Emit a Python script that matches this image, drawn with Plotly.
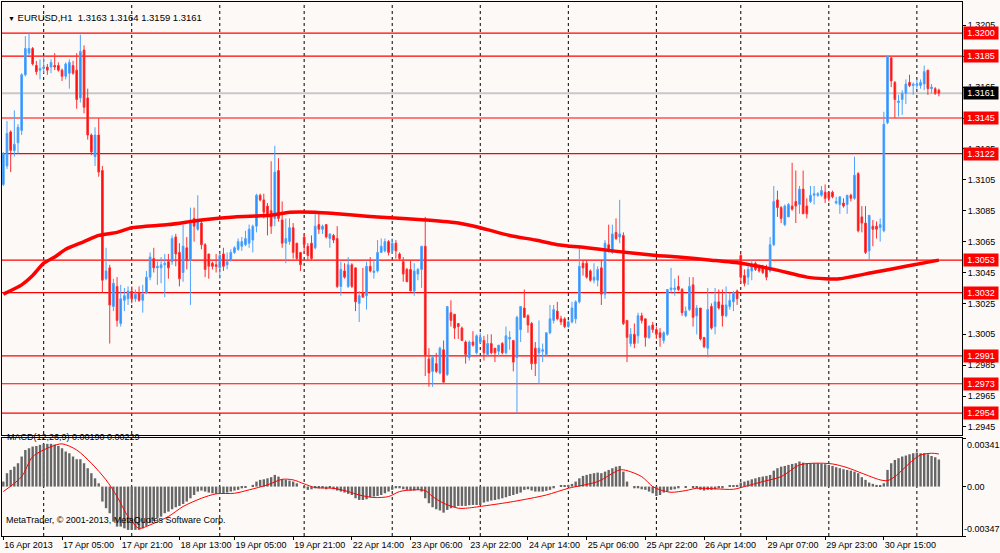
import plotly.graph_objects as go

# EURUSD H1, one value per hourly bar (weekend hours are not drawn, bars are indexed)
opens = [
    1.3102, 1.3114, 1.3136, 1.3124, 1.3129, 1.3137, 1.3173, 1.3187, 1.3190, 1.3179,
    1.3176, 1.3177, 1.3178, 1.3178, 1.3179, 1.3179, 1.3176, 1.3172, 1.3174, 1.3179,
    1.3176, 1.3158, 1.3189, 1.3158, 1.3134, 1.3120, 1.3134, 1.3111, 1.3041, 1.3048,
    1.3023, 1.3036, 1.3012, 1.3027, 1.3028, 1.3033, 1.3028, 1.3032, 1.3027, 1.3032,
    1.3042, 1.3054, 1.3048, 1.3048, 1.3050, 1.3052, 1.3052, 1.3068, 1.3058, 1.3045,
    1.3061, 1.3053, 1.3080, 1.3073, 1.3077, 1.3063, 1.3057, 1.3051, 1.3050, 1.3048,
    1.3057, 1.3050, 1.3053, 1.3058, 1.3060, 1.3062, 1.3063, 1.3064, 1.3066, 1.3075,
    1.3095, 1.3092, 1.3088, 1.3085, 1.3080, 1.3111, 1.3079, 1.3064, 1.3065, 1.3074,
    1.3064, 1.3058, 1.3068, 1.3062, 1.3064, 1.3061, 1.3076, 1.3073, 1.3076, 1.3067,
    1.3069, 1.3067, 1.3036, 1.3046, 1.3036, 1.3050, 1.3048, 1.3025, 1.3032, 1.3030,
    1.3049, 1.3045, 1.3046, 1.3058, 1.3059, 1.3065, 1.3059, 1.3064, 1.3057, 1.3052,
    1.3047, 1.3047, 1.3033, 1.3044, 1.3047, 1.3062, 1.2989, 1.2981, 1.2986, 1.2980,
    1.2995, 1.2979, 1.3019, 1.3018, 1.3012, 1.3009, 1.3000, 1.2990, 1.3000, 1.2993,
    1.3000, 1.3001, 1.2992, 1.2999, 1.2996, 1.2994, 1.2999, 1.2993, 1.3002, 1.3001,
    1.2990, 1.3008, 1.3022, 1.3017, 1.3012, 1.2996, 1.2993, 1.2994, 1.2992, 1.3006,
    1.3014, 1.3020, 1.3015, 1.3015, 1.3010, 1.3013, 1.3015, 1.3026, 1.3051, 1.3051,
    1.3046, 1.3040, 1.3040, 1.3048, 1.3031, 1.3063, 1.3058, 1.3071, 1.3068, 1.3069,
    1.3014, 1.2999, 1.3005, 1.3004, 1.3017, 1.3015, 1.3003, 1.3011, 1.3008, 1.3006,
    1.3001, 1.3005, 1.3034, 1.3034, 1.3036, 1.3034, 1.3017, 1.3021, 1.3037, 1.3017,
    1.3022, 1.3003, 1.2996, 1.3023, 1.3010, 1.3026, 1.3024, 1.3017, 1.3023, 1.3026,
    1.3033, 1.3056, 1.3043, 1.3042, 1.3046, 1.3051, 1.3049, 1.3049, 1.3048, 1.3046,
    1.3063, 1.3092, 1.3087, 1.3076, 1.3081, 1.3088, 1.3091, 1.3089, 1.3099, 1.3088,
    1.3091, 1.3095, 1.3095, 1.3095, 1.3097, 1.3097, 1.3097, 1.3090, 1.3089, 1.3090,
    1.3089, 1.3095, 1.3093, 1.3109, 1.3081, 1.3077, 1.3059, 1.3075, 1.3075, 1.3074,
    1.3072, 1.3142, 1.3184, 1.3168, 1.3155, 1.3157, 1.3161, 1.3168, 1.3166, 1.3166,
    1.3166, 1.3167, 1.3176, 1.3164, 1.3164, 1.3163,
]
highs = [
    1.3123, 1.3143, 1.3137, 1.3150, 1.3141, 1.3174, 1.3198, 1.3200, 1.3191, 1.3182,
    1.3183, 1.3185, 1.3180, 1.3183, 1.3187, 1.3181, 1.3177, 1.3181, 1.3183, 1.3182,
    1.3187, 1.3199, 1.3192, 1.3164, 1.3135, 1.3139, 1.3145, 1.3114, 1.3061, 1.3050,
    1.3041, 1.3042, 1.3037, 1.3035, 1.3036, 1.3036, 1.3034, 1.3036, 1.3037, 1.3046,
    1.3058, 1.3061, 1.3052, 1.3055, 1.3057, 1.3057, 1.3069, 1.3070, 1.3064, 1.3076,
    1.3068, 1.3087, 1.3087, 1.3095, 1.3079, 1.3064, 1.3057, 1.3052, 1.3057, 1.3058,
    1.3061, 1.3058, 1.3060, 1.3062, 1.3067, 1.3068, 1.3072, 1.3076, 1.3076, 1.3096,
    1.3096, 1.3096, 1.3090, 1.3117, 1.3127, 1.3119, 1.3091, 1.3080, 1.3080, 1.3077,
    1.3064, 1.3058, 1.3070, 1.3064, 1.3069, 1.3083, 1.3083, 1.3076, 1.3076, 1.3070,
    1.3070, 1.3075, 1.3052, 1.3051, 1.3055, 1.3051, 1.3048, 1.3033, 1.3048, 1.3052,
    1.3055, 1.3053, 1.3066, 1.3067, 1.3067, 1.3066, 1.3067, 1.3066, 1.3058, 1.3055,
    1.3048, 1.3053, 1.3051, 1.3048, 1.3062, 1.3081, 1.2996, 1.2991, 1.2993, 1.2997,
    1.3001, 1.3023, 1.3027, 1.3018, 1.3012, 1.3010, 1.3001, 1.3001, 1.3007, 1.3005,
    1.3006, 1.3004, 1.3005, 1.3005, 1.2996, 1.2998, 1.3000, 1.3010, 1.3007, 1.3001,
    1.3017, 1.3023, 1.3034, 1.3018, 1.3013, 1.3000, 1.3014, 1.2999, 1.3006, 1.3024,
    1.3024, 1.3026, 1.3017, 1.3016, 1.3014, 1.3026, 1.3027, 1.3062, 1.3053, 1.3053,
    1.3047, 1.3051, 1.3049, 1.3053, 1.3066, 1.3076, 1.3076, 1.3080, 1.3092, 1.3071,
    1.3014, 1.3009, 1.3012, 1.3019, 1.3019, 1.3015, 1.3011, 1.3013, 1.3010, 1.3009,
    1.3007, 1.3034, 1.3048, 1.3041, 1.3043, 1.3035, 1.3023, 1.3042, 1.3042, 1.3024,
    1.3022, 1.3003, 1.3035, 1.3025, 1.3035, 1.3034, 1.3034, 1.3036, 1.3032, 1.3033,
    1.3034, 1.3057, 1.3047, 1.3049, 1.3053, 1.3052, 1.3050, 1.3050, 1.3050, 1.3068,
    1.3101, 1.3098, 1.3088, 1.3089, 1.3090, 1.3116, 1.3111, 1.3101, 1.3111, 1.3093,
    1.3101, 1.3101, 1.3097, 1.3101, 1.3102, 1.3097, 1.3098, 1.3094, 1.3094, 1.3093,
    1.3095, 1.3096, 1.3120, 1.3110, 1.3088, 1.3088, 1.3082, 1.3079, 1.3078, 1.3080,
    1.3149, 1.3185, 1.3184, 1.3169, 1.3160, 1.3163, 1.3170, 1.3173, 1.3168, 1.3170,
    1.3170, 1.3179, 1.3176, 1.3167, 1.3165, 1.3164,
]
lows = [
    1.3101, 1.3112, 1.3110, 1.3120, 1.3122, 1.3134, 1.3172, 1.3185, 1.3179, 1.3173,
    1.3170, 1.3174, 1.3173, 1.3174, 1.3176, 1.3175, 1.3169, 1.3170, 1.3164, 1.3173,
    1.3151, 1.3155, 1.3148, 1.3131, 1.3121, 1.3114, 1.3107, 1.3032, 1.3040, 1.2999,
    1.3020, 1.3010, 1.3010, 1.3020, 1.3024, 1.3025, 1.3026, 1.3026, 1.3019, 1.3031,
    1.3040, 1.3045, 1.3037, 1.3038, 1.3029, 1.3041, 1.3050, 1.3049, 1.3036, 1.3039,
    1.3047, 1.3024, 1.3065, 1.3072, 1.3060, 1.3042, 1.3041, 1.3047, 1.3045, 1.3041,
    1.3046, 1.3047, 1.3052, 1.3057, 1.3059, 1.3059, 1.3062, 1.3061, 1.3058, 1.3071,
    1.3091, 1.3080, 1.3069, 1.3070, 1.3075, 1.3078, 1.3061, 1.3051, 1.3063, 1.3054,
    1.3053, 1.3046, 1.3057, 1.3053, 1.3053, 1.3060, 1.3070, 1.3070, 1.3067, 1.3061,
    1.3064, 1.3035, 1.3030, 1.3041, 1.3035, 1.3035, 1.3020, 1.3013, 1.3029, 1.3021,
    1.3045, 1.3041, 1.3045, 1.3058, 1.3058, 1.3056, 1.3057, 1.3054, 1.3053, 1.3039,
    1.3039, 1.3033, 1.3030, 1.3040, 1.3035, 1.2978, 1.2971, 1.2971, 1.2980, 1.2979,
    1.2974, 1.2978, 1.3010, 1.3002, 1.3002, 1.3001, 1.2986, 1.2988, 1.2997, 1.2992,
    1.2999, 1.2988, 1.2991, 1.2992, 1.2987, 1.2991, 1.2992, 1.2992, 1.2995, 1.2981,
    1.2954, 1.3000, 1.3016, 1.3006, 1.2982, 1.2978, 1.2973, 1.2987, 1.2991, 1.3005,
    1.3012, 1.3014, 1.3011, 1.3009, 1.3009, 1.3012, 1.3012, 1.3025, 1.3043, 1.3041,
    1.3039, 1.3038, 1.3036, 1.3024, 1.3028, 1.3058, 1.3057, 1.3066, 1.3064, 1.3011,
    1.2987, 1.2997, 1.2996, 1.2999, 1.3012, 1.2997, 1.3002, 1.3006, 1.3002, 1.2997,
    1.2999, 1.3004, 1.3032, 1.3030, 1.3033, 1.3017, 1.3016, 1.3020, 1.3010, 1.3005,
    1.3001, 1.2996, 1.2990, 1.3008, 1.3005, 1.3021, 1.3010, 1.3016, 1.3021, 1.3020,
    1.3024, 1.3038, 1.3036, 1.3037, 1.3040, 1.3046, 1.3045, 1.3044, 1.3040, 1.3045,
    1.3062, 1.3081, 1.3077, 1.3075, 1.3081, 1.3085, 1.3077, 1.3083, 1.3083, 1.3080,
    1.3090, 1.3089, 1.3094, 1.3094, 1.3090, 1.3091, 1.3093, 1.3089, 1.3083, 1.3087,
    1.3083, 1.3091, 1.3092, 1.3071, 1.3071, 1.3057, 1.3053, 1.3062, 1.3067, 1.3065,
    1.3071, 1.3141, 1.3165, 1.3145, 1.3146, 1.3147, 1.3154, 1.3165, 1.3160, 1.3164,
    1.3164, 1.3163, 1.3160, 1.3161, 1.3160, 1.3159,
]
closes = [
    1.3122, 1.3135, 1.3124, 1.3128, 1.3139, 1.3173, 1.3190, 1.3190, 1.3180, 1.3175,
    1.3177, 1.3178, 1.3176, 1.3181, 1.3178, 1.3176, 1.3172, 1.3180, 1.3181, 1.3174,
    1.3157, 1.3188, 1.3152, 1.3134, 1.3123, 1.3134, 1.3110, 1.3040, 1.3046, 1.3024,
    1.3038, 1.3014, 1.3028, 1.3030, 1.3033, 1.3028, 1.3031, 1.3027, 1.3031, 1.3042,
    1.3055, 1.3048, 1.3049, 1.3050, 1.3051, 1.3048, 1.3067, 1.3057, 1.3041, 1.3062,
    1.3053, 1.3079, 1.3075, 1.3079, 1.3063, 1.3047, 1.3049, 1.3049, 1.3049, 1.3056,
    1.3049, 1.3052, 1.3058, 1.3061, 1.3065, 1.3065, 1.3067, 1.3073, 1.3075, 1.3095,
    1.3092, 1.3084, 1.3081, 1.3075, 1.3110, 1.3080, 1.3064, 1.3067, 1.3074, 1.3058,
    1.3054, 1.3050, 1.3063, 1.3056, 1.3054, 1.3075, 1.3073, 1.3075, 1.3068, 1.3070,
    1.3066, 1.3036, 1.3047, 1.3042, 1.3050, 1.3036, 1.3026, 1.3030, 1.3029, 1.3049,
    1.3046, 1.3046, 1.3058, 1.3062, 1.3065, 1.3058, 1.3064, 1.3059, 1.3054, 1.3044,
    1.3039, 1.3033, 1.3046, 1.3047, 1.3062, 1.2991, 1.2980, 1.2990, 1.2981, 1.2996,
    1.2974, 1.3023, 1.3014, 1.3009, 1.3010, 1.3001, 1.2992, 1.3000, 1.2998, 1.3004,
    1.3003, 1.2993, 1.2999, 1.2993, 1.2993, 1.2998, 1.2993, 1.3004, 1.3003, 1.2987,
    1.3016, 1.3023, 1.3016, 1.3011, 1.2986, 1.2986, 1.2996, 1.2995, 1.3006, 1.3015,
    1.3021, 1.3015, 1.3013, 1.3010, 1.3013, 1.3022, 1.3026, 1.3049, 1.3048, 1.3042,
    1.3040, 1.3042, 1.3047, 1.3031, 1.3064, 1.3059, 1.3070, 1.3067, 1.3070, 1.3012,
    1.3003, 1.3005, 1.2999, 1.3017, 1.3014, 1.3003, 1.3010, 1.3008, 1.3005, 1.3003,
    1.3006, 1.3034, 1.3035, 1.3035, 1.3034, 1.3019, 1.3020, 1.3036, 1.3016, 1.3022,
    1.3002, 1.2997, 1.3021, 1.3009, 1.3026, 1.3022, 1.3017, 1.3024, 1.3027, 1.3032,
    1.3028, 1.3042, 1.3038, 1.3047, 1.3050, 1.3047, 1.3046, 1.3045, 1.3042, 1.3063,
    1.3091, 1.3087, 1.3080, 1.3088, 1.3089, 1.3086, 1.3088, 1.3099, 1.3083, 1.3083,
    1.3095, 1.3096, 1.3096, 1.3098, 1.3093, 1.3093, 1.3094, 1.3091, 1.3094, 1.3088,
    1.3095, 1.3093, 1.3108, 1.3072, 1.3077, 1.3058, 1.3082, 1.3073, 1.3073, 1.3076,
    1.3141, 1.3185, 1.3169, 1.3157, 1.3156, 1.3161, 1.3167, 1.3166, 1.3167, 1.3167,
    1.3168, 1.3175, 1.3164, 1.3165, 1.3161, 1.3161,
]

# moving average, read at a few bars
ma_bars = [0, 5, 8, 11, 14, 17, 22, 26, 31, 35, 45, 54, 63, 73, 78, 85, 91, 96, 102,
           109, 115, 124, 130, 138, 145, 151, 159, 166, 178, 184, 193, 201, 210, 219,
           224, 228, 237, 246, 255]
ma_values = [1.3031, 1.3037, 1.3043, 1.3051, 1.3055, 1.3060, 1.3065, 1.3069, 1.3071,
             1.3074, 1.3076, 1.3079, 1.3081, 1.3082, 1.3084, 1.3084, 1.3083, 1.3082,
             1.3081, 1.3080, 1.3079, 1.3077, 1.3074, 1.3069, 1.3066, 1.3063, 1.3061,
             1.3059, 1.3056, 1.3055, 1.3053, 1.3051, 1.3047, 1.3042, 1.3041, 1.3041,
             1.3045, 1.3049, 1.3053]

# MACD(12,26,9) histogram, one per bar
macd_hist = [
    0.00035, 0.00094, 0.00117, 0.00140, 0.00164, 0.00211, 0.00257, 0.00269, 0.00281, 0.00285, 0.00293,
    0.00300, 0.00300, 0.00300, 0.00295, 0.00285, 0.00269, 0.00246, 0.00234, 0.00211, 0.00192, 0.00192,
    0.00164, 0.00129, 0.00094, 0.00058, 0.00023, -0.00105, -0.00152, -0.00187, -0.00246, -0.00281, -0.00281,
    -0.00293, -0.00304, -0.00304, -0.00304, -0.00304, -0.00293, -0.00276, -0.00257, -0.00241, -0.00222, -0.00211,
    -0.00187, -0.00176, -0.00159, -0.00145, -0.00136, -0.00122, -0.00105, -0.00082, -0.00059, -0.00035, -0.00028,
    -0.00035, -0.00042, -0.00047, -0.00051, -0.00047, -0.00047, -0.00042, -0.00035, -0.00028, -0.00023, -0.00012,
    -0.00005, 0.0, 0.00012, 0.00035, 0.00047, 0.00051, 0.00058, 0.00066, 0.00082, 0.00070, 0.00051,
    0.00047, 0.00042, 0.00035, 0.00023, 0.0, -0.00012, -0.00023, -0.00019, -0.00012, -0.00012, -0.00012,
    -0.00019, -0.00012, -0.00019, -0.00028, -0.00035, -0.00042, -0.00051, -0.00059, -0.00082, -0.00094, -0.00094,
    -0.00089, -0.00075, -0.00070, -0.00066, -0.00059, -0.00047, -0.00035, -0.00023, -0.00012, -0.00012, -0.00019,
    -0.00023, -0.00028, -0.00028, -0.00023, -0.00035, -0.00082, -0.00117, -0.00145, -0.00159, -0.00168, -0.00183,
    -0.00164, -0.00152, -0.00145, -0.00136, -0.00136, -0.00136, -0.00131, -0.00129, -0.00129, -0.00129,
    -0.00112, -0.00105, -0.00098, -0.00094, -0.00089, -0.00082, -0.00075, -0.00066, -0.00059, -0.00051,
    -0.00042, -0.00023, -0.00019, -0.00028, -0.00035, -0.00035, -0.00035, -0.00030, -0.00023, -0.00012,
    0.0, 0.00005, 0.00009, 0.00012, 0.00019, 0.00035, 0.00058, 0.00075, 0.00082, 0.00089,
    0.00094, 0.00098, 0.00094, 0.00105, 0.00117, 0.00129, 0.00140, 0.00145, 0.00105, 0.00035,
    0.0, -0.00012, -0.00012, -0.00019, -0.00023, -0.00035, -0.00047, -0.00066, -0.00059, -0.00042,
    -0.00035, -0.00023, -0.00019, -0.00012, 0.0, -0.00005, 0.0, -0.00007, -0.00012, -0.00023,
    -0.00028, -0.00023, -0.00023, -0.00019, -0.00012, -0.00012, 0.0, 0.00005, 0.00007, 0.00012,
    0.00028, 0.00035, 0.00042, 0.00051, 0.00058, 0.00066, 0.00070, 0.00075, 0.00082, 0.00112,
    0.00129, 0.00140, 0.00145, 0.00152, 0.00159, 0.00164, 0.00176, 0.00168, 0.00164, 0.00164,
    0.00164, 0.00164, 0.00159, 0.00157, 0.00152, 0.00145, 0.00136, 0.00129, 0.00122, 0.00117,
    0.00112, 0.00105, 0.00094, 0.00066, 0.00047, 0.00028, 0.00019, 0.00012, 0.00005, 0.00023,
    0.00117, 0.00164, 0.00187, 0.00199, 0.00211, 0.00218, 0.00227, 0.00234, 0.00239, 0.00234,
    0.00234, 0.00227, 0.00215, 0.00206, 0.00190,
]
signal_bars = [0, 5, 8, 13, 16, 20, 24, 28, 31, 34, 37, 40, 45, 49, 54, 58, 63, 67, 72,
               76, 79, 82, 85, 90, 94, 97, 101, 105, 108, 112, 115, 117, 120, 124, 126,
               131, 139, 148, 154, 162, 168, 170, 174, 177, 179, 182, 186, 189, 194, 199,
               202, 207, 212, 217, 221, 226, 230, 234, 239, 241, 243, 248, 250, 253, 255]
signal_values = [-0.00035, 0.00070, 0.00210, 0.00280, 0.00300, 0.00257, 0.00164, 0.00047,
                 -0.00070, -0.00210, -0.00293, -0.00269, -0.00210, -0.00140, -0.00082,
                 -0.00051, -0.00047, -0.00023, 0.00012, 0.00051, 0.00047, 0.00019, -0.00007,
                 -0.00012, -0.00035, -0.00059, -0.00077, -0.00070, -0.00035, -0.00023,
                 -0.00028, -0.00070, -0.00117, -0.00152, -0.00152, -0.00136, -0.00105,
                 -0.00059, -0.00012, 0.00035, 0.00117, 0.00112, 0.00070, 0.0, -0.00023,
                 -0.00040, -0.00028, -0.00012, -0.00016, -0.00019, 0.0, 0.00035, 0.00070,
                 0.00152, 0.00164, 0.00159, 0.00133, 0.00094, 0.00047, 0.00042, 0.00070,
                 0.00187, 0.00222, 0.00234, 0.00229]

# horizontal levels and current bid
levels = [1.3200, 1.3185, 1.3145, 1.3122, 1.3053, 1.3032, 1.2991, 1.2973, 1.2954]
bid = 1.3161

price_ticks = [1.2945, 1.2965, 1.2985, 1.3005, 1.3025, 1.3045, 1.3065, 1.3085,
               1.3105, 1.3125, 1.3145, 1.3165, 1.3185, 1.3205]
date_ticks = [0, 16, 32, 48, 63, 79, 95, 111, 127, 143, 159, 175, 191, 208, 224, 240]
date_labels = ["16 Apr 2013", "17 Apr 05:00", "17 Apr 21:00", "18 Apr 13:00",
               "19 Apr 05:00", "19 Apr 21:00", "22 Apr 14:00", "23 Apr 06:00",
               "23 Apr 22:00", "24 Apr 14:00", "25 Apr 06:00", "25 Apr 22:00",
               "26 Apr 14:00", "29 Apr 07:00", "29 Apr 23:00", "30 Apr 15:00"]
day_starts = [11, 35, 59, 82, 106, 130, 154, 178, 201, 225, 249]

macd_top, macd_bottom = 0.00341, -0.00347

FONT = "Liberation Sans"
BG = "#FCF9F7"

bars = list(range(len(opens)))

fig = go.Figure()

fig.add_trace(go.Candlestick(
    x=bars, open=opens, high=highs, low=lows, close=closes,
    increasing=dict(line=dict(color="#4DA3FF", width=1), fillcolor="#1E8FFF"),
    decreasing=dict(line=dict(color="#FF3030", width=1), fillcolor="#FF0000"),
    whiskerwidth=0, hoverinfo="skip", xaxis="x", yaxis="y"))

fig.add_trace(go.Scatter(
    x=ma_bars, y=ma_values, mode="lines",
    line=dict(color="#FF0000", width=3.5, shape="spline", smoothing=0.6),
    hoverinfo="skip", xaxis="x", yaxis="y"))

fig.add_trace(go.Bar(
    x=bars, y=macd_hist, width=0.65, marker=dict(color="#666666", line_width=0),
    hoverinfo="skip", xaxis="x2", yaxis="y2"))

fig.add_trace(go.Scatter(
    x=signal_bars, y=signal_values, mode="lines",
    line=dict(color="#FF0000", width=1, shape="spline", smoothing=0.8),
    hoverinfo="skip", xaxis="x2", yaxis="y2"))

# day separators over both panels
for d in day_starts:
    fig.add_shape(type="line", xref="x", yref="paper", x0=d, x1=d, y0=0, y1=1,
                  line=dict(color="black", width=1, dash="3px,3px"), layer="below")

# support / resistance lines with their price boxes
for lv in levels:
    fig.add_shape(type="line", xref="paper", yref="y", x0=0, x1=1, y0=lv, y1=lv,
                  line=dict(color="#FF0000", width=1.2), layer="below")
    fig.add_annotation(x=1, xref="paper", y=lv, yref="y", text=f"{lv:.4f}",
                       xanchor="left", xshift=1, showarrow=False, bgcolor="#FF0000",
                       font=dict(family=FONT, size=9, color="white"),
                       width=32, height=10, borderpad=1)

fig.add_shape(type="line", xref="paper", yref="y", x0=0, x1=1, y0=bid, y1=bid,
              line=dict(color="#C8C8C8", width=2), layer="below")
fig.add_annotation(x=1, xref="paper", y=bid, yref="y", text=f"{bid:.4f}",
                   xanchor="left", xshift=1, showarrow=False, bgcolor="black",
                   font=dict(family=FONT, size=9, color="white"),
                   width=32, height=10, borderpad=1)

# MACD scale labels
fig.add_annotation(x=1, xref="paper", y=macd_top, yref="y2", text=f"{macd_top:.5f}",
                   xanchor="left", yanchor="top", xshift=3, showarrow=False,
                   font=dict(family=FONT, size=9, color="black"))
fig.add_annotation(x=1, xref="paper", y=0, yref="y2", text="0.00",
                   xanchor="left", xshift=3, showarrow=False,
                   font=dict(family=FONT, size=9, color="black"))
fig.add_annotation(x=1, xref="paper", y=macd_bottom, yref="y2", text=f"{macd_bottom:.5f}",
                   xanchor="left", yanchor="bottom", xshift=0, showarrow=False,
                   font=dict(family=FONT, size=9, color="black"))

# panel captions
fig.add_annotation(x=0.004, y=0.985, xref="paper", yref="paper", xanchor="left",
                   text="<span style='font-size:7px'>▼</span> EURUSD,H1\u00a0\u00a01.3163 1.3164 1.3159 1.3161",
                   showarrow=False, font=dict(family=FONT, size=9.5, color="black"))
fig.add_annotation(x=0.003, y=0.172, xref="paper", yref="paper", xanchor="left",
                   text="MACD(12,26,9) 0.00190 0.00229",
                   showarrow=False, font=dict(family=FONT, size=9, color="black"))
fig.add_annotation(x=0.002, y=0.016, xref="paper", yref="paper", xanchor="left",
                   text="MetaTrader, © 2001-2013, MetaQuotes Software Corp.",
                   showarrow=False, font=dict(family=FONT, size=9, color="black"))

axis_common = dict(showgrid=False, zeroline=False, showline=True, mirror=True,
                   linecolor="black", linewidth=1, automargin=False)

fig.update_layout(
    width=1000, height=553,
    margin=dict(l=2, r=38, t=2, b=17, autoexpand=False),
    paper_bgcolor=BG, plot_bgcolor="rgba(0,0,0,0)",
    showlegend=False, boxgap=0.35,
    font=dict(family=FONT, size=9, color="black"),
    xaxis=dict(domain=[0, 1], anchor="y", range=[-0.36, 261.3],
               showticklabels=False, ticks="", rangeslider=dict(visible=False),
               **axis_common),
    xaxis2=dict(domain=[0, 1], anchor="y2", matches="x",
                tickvals=date_ticks, ticktext=date_labels, ticks="outside",
                ticklen=3, tickcolor="black", ticklabelposition="outside right",
                tickangle=0, tickfont=dict(family=FONT, size=9, color="black"),
                **axis_common),
    yaxis=dict(domain=[0.1891, 1], range=[1.29398, 1.32201], side="right",
               tickvals=price_ticks, ticktext=[f"{p:.4f}" for p in price_ticks],
               ticks="outside", ticklen=3, tickcolor="black",
               tickfont=dict(family=FONT, size=9, color="black"), **axis_common),
    yaxis2=dict(domain=[0, 0.1835], range=[macd_bottom, macd_top], side="right",
                tickvals=[macd_top, 0, macd_bottom], showticklabels=False,
                ticks="outside", ticklen=3, tickcolor="black", **axis_common),
)

# the page body keeps an 8px margin by default; drop it so the chart fills the window
fig.write_html("out.html", config={"displayModeBar": False},
               post_script="document.body.style.margin='0';"
               "document.body.style.background='" + BG + "';")
